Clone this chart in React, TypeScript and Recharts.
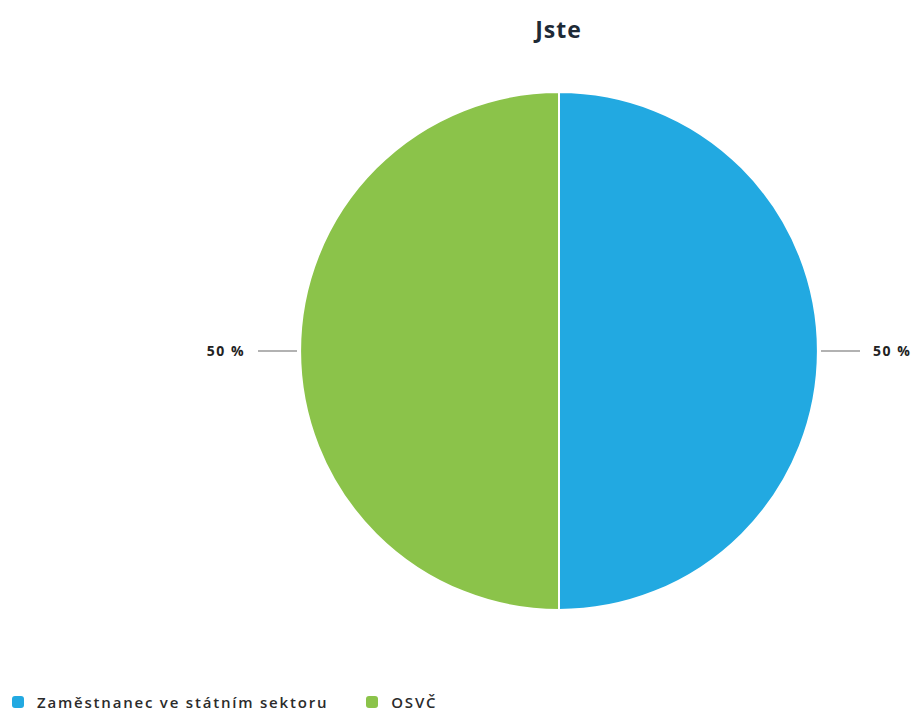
import { PieChart, Pie, Cell, Legend } from 'recharts';

const categories = ['Zaměstnanec ve státním sektoru', 'OSVČ'];
const shares = [50, 50];
const colors = ['#22a9e1', '#8bc34a'];

const data = categories.map((name, i) => ({ name, value: shares[i] }));

const RADIAN = Math.PI / 180;

function renderLabel(props: any) {
  const { cx, cy, midAngle, outerRadius, value } = props;
  const cos = Math.cos(-midAngle * RADIAN);
  const sin = Math.sin(-midAngle * RADIAN);
  const x1 = cx + (outerRadius + 3) * cos;
  const y1 = cy + (outerRadius + 3) * sin;
  const x2 = cx + (outerRadius + 42) * cos;
  const y2 = cy + (outerRadius + 42) * sin;
  const tx = cx + (outerRadius + 55) * cos;
  return (
    <g>
      <line x1={x1} y1={y1} x2={x2} y2={y2} stroke="#999" strokeWidth={1.5} />
      <text
        x={tx}
        y={y2}
        dy={5}
        textAnchor={cos >= 0 ? 'start' : 'end'}
        fill="#222"
        fontSize={14}
        fontWeight={700}
        letterSpacing={1.5}
        fontFamily="'Open Sans', sans-serif"
      >
        {`${value} %`}
      </text>
    </g>
  );
}

function renderLegend() {
  return (
    <div
      style={{
        display: 'flex',
        gap: 38,
        fontFamily: "'Open Sans', sans-serif",
        fontSize: 15,
        letterSpacing: 1.8,
        color: '#2b2b2b',
        fontWeight: 600,
      }}
    >
      {categories.map((c, i) => (
        <span key={c} style={{ display: 'flex', alignItems: 'center', gap: 13 }}>
          <span style={{ width: 12, height: 12, borderRadius: 3, background: colors[i], display: 'inline-block' }} />
          {c}
        </span>
      ))}
    </div>
  );
}

export default function App() {
  return (
    <div style={{ position: 'absolute', left: 0, top: 0, width: 917, height: 713, background: '#fff' }}>
      <div
        style={{
          position: 'absolute',
          top: 13,
          left: 0,
          width: 1117,
          textAlign: 'center',
          fontFamily: "'Open Sans', sans-serif",
          fontWeight: 700,
          fontSize: 23,
          letterSpacing: 1,
          color: '#1e2a36',
        }}
      >
        Jste
      </div>
      <PieChart width={917} height={713} margin={{ top: 0, right: 0, bottom: 0, left: 0 }}>
        <Pie
          data={data}
          dataKey="value"
          nameKey="name"
          cx={559}
          cy={351}
          outerRadius={259}
          startAngle={90}
          endAngle={-270}
          stroke="#fff"
          strokeWidth={2}
          label={renderLabel}
          labelLine={false}
          isAnimationActive={false}
        >
          {data.map((d, i) => (
            <Cell key={d.name} fill={colors[i]} />
          ))}
        </Pie>
        <Legend content={renderLegend} wrapperStyle={{ left: 12, top: 692, width: 700 }} />
      </PieChart>
    </div>
  );
}
